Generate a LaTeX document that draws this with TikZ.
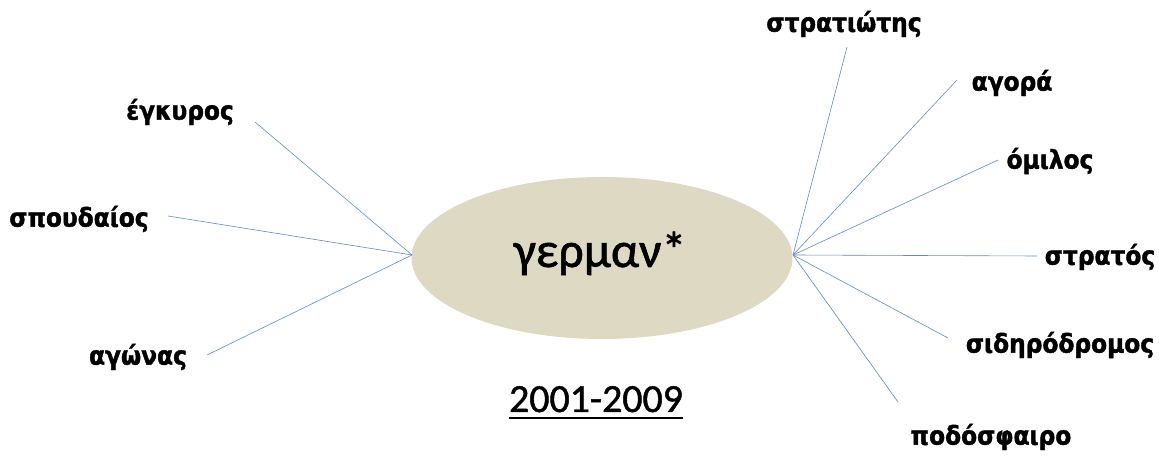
\documentclass[tikz,border=0pt]{standalone}
\usepackage{fontspec}
\setmainfont{Carlito}
\newfontfamily\stemfont[FakeBold=1.2]{Carlito}
\newfontfamily\wordfont[BoldFeatures={FakeBold=1.5}]{DejaVu Sans Condensed}
\usetikzlibrary{shapes.geometric}
\definecolor{stemfill}{RGB}{221,217,195}
\definecolor{spoke}{RGB}{98,138,190}

\begin{document}
\begin{tikzpicture}[x=1bp,y=-1bp,
    word/.style={font=\wordfont\bfseries\fontsize{26}{30}\selectfont,inner sep=0pt},
    bigtext/.style={font=\stemfont\fontsize{#1}{#1}\selectfont,inner sep=0pt,anchor=base},
    spokeline/.style={spoke,line width=0.6bp}]
            \useasboundingbox (0,0) rectangle (1159,459);
            \node[ellipse,fill=stemfill,minimum width=381bp,minimum height=162bp,inner sep=0pt] (root) at (602,258) {};
            \node[bigtext=50] (stem) at (600,267) {γερμαν*};
            \node[bigtext=40] (years) at (596,412) {2001-2009};
            \draw[line width=1.8bp] ([yshift=-6bp]years.base west)--([yshift=-6bp]years.base east);
            % left side
            \coordinate (hubL) at (412,255);
            \node[word] (egkyros) at (180,112) {έγκυρος};
            \node[word] (spoudaios) at (79,219) {σπουδαίος};
            \node[word] (agonas) at (138,357) {αγώνας};
            \coordinate (egkyrosEnd) at (255,122);
            \coordinate (spoudaiosEnd) at (168,216);
            \coordinate (agonasEnd) at (207,355);
            \draw[spokeline] (hubL)--(egkyrosEnd);
            \draw[spokeline] (hubL)--(spoudaiosEnd);
            \draw[spokeline] (hubL)--(agonasEnd);
            % right side
            \coordinate (hubR) at (793,255);
            \node[word] (stratiotis) at (844,24) {στρατιώτης};
            \node[word] (agora) at (1012,83) {αγορά};
            \node[word] (omilos) at (1050,161) {όμιλος};
            \node[word] (stratos) at (1100,257) {στρατός};
            \node[word] (sidirodromos) at (1060,345) {σιδηρόδρομος};
            \node[word] (podosfairo) at (991,437) {ποδόσφαιρο};
            \coordinate (stratiotisEnd) at (847,47);
            \coordinate (agoraEnd) at (957,80);
            \coordinate (omilosEnd) at (998,160);
            \coordinate (stratosEnd) at (1037,256);
            \coordinate (sidirodromosEnd) at (948,338);
            \coordinate (podosfairoEnd) at (898,402);
            \draw[spokeline] (hubR)--(stratiotisEnd);
            \draw[spokeline] (hubR)--(agoraEnd);
            \draw[spokeline] (hubR)--(omilosEnd);
            \draw[spokeline] (hubR)--(stratosEnd);
            \draw[spokeline] (hubR)--(sidirodromosEnd);
            \draw[spokeline] (hubR)--(podosfairoEnd);
        \end{tikzpicture}
\end{document}
